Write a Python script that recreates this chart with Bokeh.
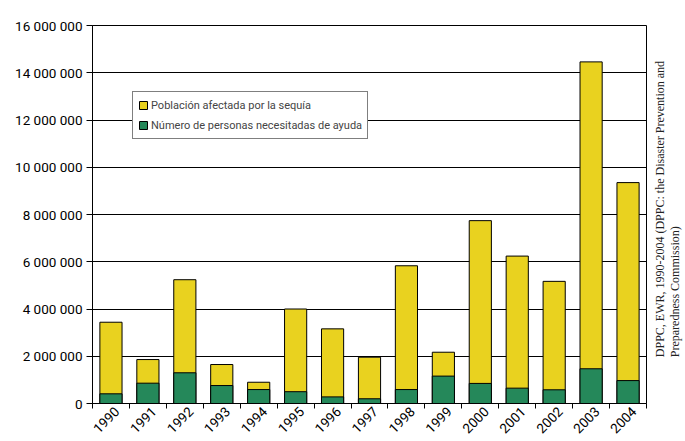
from math import pi
from bokeh.plotting import figure
from bokeh.layouts import row
from bokeh.models import FixedTicker, Legend, LegendItem, Label, ColumnDataSource
from bokeh.embed import file_html
from bokeh.resources import INLINE

years = ["1990", "1991", "1992", "1993", "1994", "1995", "1996", "1997",
         "1998", "1999", "2000", "2001", "2002", "2003", "2004"]
afectada = [3.44e6, 1.86e6, 5.24e6, 1.65e6, 0.90e6, 4.00e6, 3.16e6, 1.96e6,
            5.83e6, 2.17e6, 7.74e6, 6.24e6, 5.17e6, 14.46e6, 9.35e6]
necesitada = [0.41e6, 0.86e6, 1.30e6, 0.76e6, 0.59e6, 0.50e6, 0.28e6, 0.20e6,
              0.59e6, 1.16e6, 0.85e6, 0.65e6, 0.58e6, 1.47e6, 0.97e6]
y_ticks = [0, 2e6, 4e6, 6e6, 8e6, 10e6, 12e6, 14e6, 16e6]
y_tick_labels = ["0", "2 000 000", "4 000 000", "6 000 000", "8 000 000",
                 "10 000 000", "12 000 000", "14 000 000", "16 000 000"]
source_note = ["DPPC, EWR, 1990-2004 (DPPC: the Disaster Prevention and",
               "Preparedness Commission)"]

YELLOW = "#E9D21F"
GREEN = "#25885A"
FONT = "Roboto"
LABEL_SHIFT = 0.17  # visual offset of rotated year labels

xs = [i + 0.5 for i in range(len(years))]
label_pos = [x + LABEL_SHIFT for x in xs]
src = ColumnDataSource(dict(x=xs, year=years, afectada=afectada, necesitada=necesitada))

p = figure(width=647, height=441, x_range=(0, len(years)), y_range=(0, 16e6),
           output_backend="svg", toolbar_location=None,
           min_border_left=92, min_border_right=1, min_border_top=25, min_border_bottom=38)

r1 = p.vbar(x="x", top="afectada", width=0.6, fill_color=YELLOW, line_color="black",
            line_width=1, source=src)
r2 = p.vbar(x="x", top="necesitada", width=0.6, fill_color=GREEN, line_color="black",
            line_width=1, source=src)

p.outline_line_color = "black"
p.outline_line_width = 1
p.xgrid.visible = False
p.ygrid.ticker = FixedTicker(ticks=y_ticks)
p.ygrid.grid_line_color = "black"
p.ygrid.grid_line_width = 1

ya = p.yaxis[0]
ya.ticker = FixedTicker(ticks=y_ticks)
ya.major_label_overrides = {t: l for t, l in zip(y_ticks, y_tick_labels)}
ya.major_tick_out = 6
ya.major_tick_in = 0
ya.minor_tick_out = 0
ya.minor_tick_in = 0
ya.axis_line_color = "black"
ya.major_tick_line_color = "black"
ya.major_label_text_font = FONT
ya.major_label_text_font_size = "13.5px"
ya.major_label_text_color = "black"
ya.major_label_standoff = 4

xa = p.xaxis[0]
xa.ticker = FixedTicker(ticks=label_pos, minor_ticks=list(range(len(years) + 1)))
xa.major_label_overrides = {x: y for x, y in zip(label_pos, years)}
xa.major_tick_out = 0
xa.major_tick_in = 0
xa.minor_tick_out = 5
xa.minor_tick_in = 0
xa.minor_tick_line_color = "black"
xa.axis_line_color = "black"
xa.major_label_orientation = pi / 4
xa.major_label_text_font = FONT
xa.major_label_text_font_size = "13.5px"
xa.major_label_text_color = "black"
xa.major_label_standoff = 1

legend = Legend(items=[LegendItem(label="Población afectada por la sequía", renderers=[r1]),
                       LegendItem(label="Número de personas necesitadas de ayuda", renderers=[r2])],
                location=(40, 264))
legend.border_line_color = "black"
legend.border_line_width = 1
legend.background_fill_alpha = 1
legend.label_text_font = FONT
legend.label_text_font_size = "11px"
legend.glyph_width = 10
legend.glyph_height = 10
legend.label_standoff = 3
legend.label_height = 16
legend.padding = 5
legend.spacing = 4
legend.margin = 0
p.add_layout(legend)

# side panel carrying the vertical source note
s = figure(width=38, height=441, x_range=(0, 38), y_range=(0, 441),
           output_backend="svg", toolbar_location=None,
           min_border_left=0, min_border_right=0, min_border_top=0, min_border_bottom=0)
s.axis.visible = False
s.grid.visible = False
s.outline_line_color = None
s.add_layout(Label(x=12, y=54, text=source_note[0], angle=pi / 2,
                   text_font="Liberation Serif", text_font_size="12px",
                   text_baseline="middle", text_align="left", text_color="#222222"))
s.add_layout(Label(x=27, y=54, text=source_note[1], angle=pi / 2,
                   text_font="Liberation Serif", text_font_size="12px",
                   text_baseline="middle", text_align="left", text_color="#222222"))

layout = row(p, s, spacing=0)
open("out.html", "w").write(file_html(layout, INLINE))
